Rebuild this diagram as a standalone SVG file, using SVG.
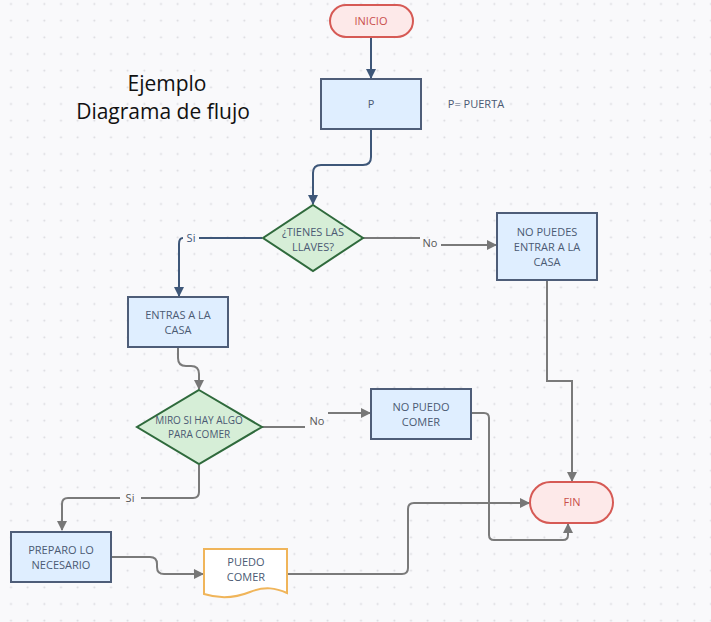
<svg xmlns="http://www.w3.org/2000/svg" width="711" height="622" viewBox="0 0 711 622">
<defs>
<pattern id="dots" patternUnits="userSpaceOnUse" x="2.667" y="-4.333" width="16.667" height="16.667">
<circle cx="8.333" cy="8.333" r="1" fill="#d9d9de"/>
</pattern>
<marker id="ab" viewBox="0 0 10 10" refX="9" refY="5" markerWidth="10" markerHeight="10" markerUnits="userSpaceOnUse" orient="auto">
<path d="M0,0 L10,5 L0,10 Z" fill="#3e5779"/>
</marker>
<marker id="ag" viewBox="0 0 10 10" refX="9" refY="5" markerWidth="10" markerHeight="10" markerUnits="userSpaceOnUse" orient="auto">
<path d="M0,0 L10,5 L0,10 Z" fill="#777777"/>
</marker>
</defs>
<style>
.t{font-family:"Open Sans","Liberation Sans",sans-serif;font-size:11px;fill:#4b5a73;text-anchor:middle}
.s{font-size:10px}
.lbl{font-family:"Open Sans","Liberation Sans",sans-serif;font-size:11px;fill:#555;text-anchor:middle}
.box{fill:#dfeeff;stroke:#4e5d78;stroke-width:2}
.dia{fill:#d6eed7;stroke:#2f6a3c;stroke-width:2}
.term{fill:#fde9e9;stroke:#d65a55;stroke-width:2}
.tt{font-family:"Open Sans","Liberation Sans",sans-serif;font-size:11px;fill:#c94f4b;text-anchor:middle}
.cb{fill:none;stroke:#3e5779;stroke-width:2}
.cg{fill:none;stroke:#7a7a7a;stroke-width:2}
.title{font-family:"Open Sans","Noto Sans",sans-serif;font-size:21px;fill:#111;text-anchor:middle}
</style>
<rect width="711" height="622" fill="#f9f9fb"/>
<rect width="711" height="622" fill="url(#dots)"/>

<g id="title">
<text class="title" x="167" y="91">Ejemplo</text>
<text class="title" x="163" y="119">Diagrama de flujo</text>
</g>

<g id="connectors">
<path class="cb" d="M371,37 V78" marker-end="url(#ab)"/>
<path class="cb" d="M371,129 V157 Q371,165 363,165 H321 Q313,165 313,173 V204" marker-end="url(#ab)"/>
<path class="cb" d="M262,238 H199"/>
<path class="cb" d="M183,238 Q179,238 179,244 V296" marker-end="url(#ab)"/>
<text class="lbl" x="191" y="242" style="fill:#3e5779">Si</text>
<path class="cg" d="M363,238 H420"/>
<path class="cg" d="M441,245 H496" marker-end="url(#ag)"/>
<text class="lbl" x="430" y="247">No</text>
<path class="cg" d="M547,280 V381 H572 V481" marker-end="url(#ag)"/>
<path class="cg" d="M178,347 V358 Q178,366 186,366 H191 Q199,366 199,374 V389" marker-end="url(#ag)"/>
<path class="cg" d="M262,427 H305"/>
<path class="cg" d="M328,413 H370" marker-end="url(#ag)"/>
<text class="lbl" x="317" y="425">No</text>
<path class="cg" d="M471,413 H484 Q489,413 489,418 V535 Q489,540 494,540 H563 Q568,540 568,535 V524" marker-end="url(#ag)"/>
<path class="cg" d="M199,465 V492 Q199,498 193,498 H141"/>
<path class="cg" d="M120,498 H68 Q62,498 62,504 V530" marker-end="url(#ag)"/>
<text class="lbl" x="130" y="502">Si</text>
<path class="cg" d="M111,557 H150 Q157,557 157,564 V567 Q157,574 164,574 H203" marker-end="url(#ag)"/>
<path class="cg" d="M288,574 H402 Q408,574 408,568 V509 Q408,503 414,503 H529" marker-end="url(#ag)"/>
</g>

<g id="inicio">
<rect class="term" x="330" y="5" width="83" height="32" rx="16"/>
<text class="tt" x="371" y="25">INICIO</text>
</g>

<g id="p">
<rect class="box" x="321" y="79" width="100" height="50"/>
<text class="t" x="371" y="108">P</text>
</g>
<g id="p-note">
<text class="t" x="476" y="108">P= PUERTA</text>
</g>

<g id="tienes-llaves">
<path class="dia" d="M313,205 L363,238 L313,271 L263,238 Z"/>
<text class="t" x="313" y="236">¿TIENES LAS</text>
<text class="t" x="313" y="251">LLAVES?</text>
</g>

<g id="no-puedes">
<rect class="box" x="497" y="213" width="100" height="67"/>
<text class="t" x="547" y="236">NO PUEDES</text>
<text class="t" x="547" y="251">ENTRAR A LA</text>
<text class="t" x="547" y="266">CASA</text>
</g>

<g id="entras">
<rect class="box" x="128" y="297" width="100" height="50"/>
<text class="t" x="178" y="319">ENTRAS A LA</text>
<text class="t" x="178" y="334">CASA</text>
</g>

<g id="miro">
<path class="dia" d="M199,390 L262,427 L199,464 L137,427 Z"/>
<text class="t s" x="199" y="424">MIRO SI HAY ALGO</text>
<text class="t s" x="199" y="438">PARA COMER</text>
</g>

<g id="no-puedo">
<rect class="box" x="371" y="389" width="100" height="50"/>
<text class="t" x="421" y="411">NO PUEDO</text>
<text class="t" x="421" y="426">COMER</text>
</g>

<g id="fin">
<rect class="term" x="530" y="482" width="83" height="41" rx="20.5"/>
<text class="tt" x="572" y="506">FIN</text>
</g>

<g id="preparo">
<rect class="box" x="11" y="532" width="100" height="50"/>
<text class="t" x="61" y="554">PREPARO LO</text>
<text class="t" x="61" y="569">NECESARIO</text>
</g>

<g id="puedo-comer">
<path d="M204,549 H287 V593 C276,588 265,586 250,592 C235,598 220,599 204,594 Z" fill="#ffffff" stroke="#f0b55a" stroke-width="2"/>
<text class="t" x="246" y="566">PUEDO</text>
<text class="t" x="246" y="581">COMER</text>
</g>
</svg>
